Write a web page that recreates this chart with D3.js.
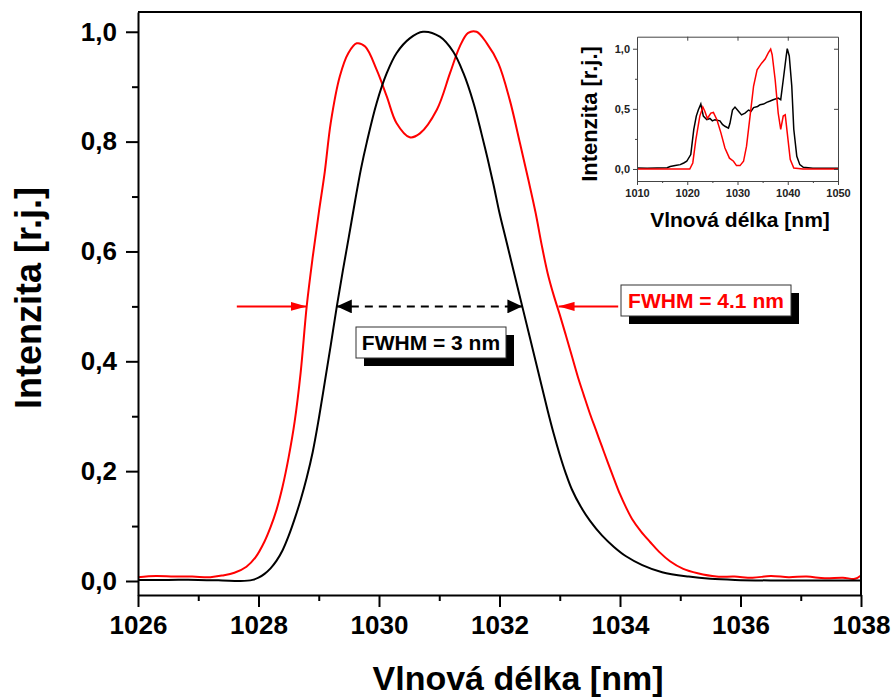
<!DOCTYPE html>
<html>
<head>
<meta charset="utf-8">
<script src="https://cdn.jsdelivr.net/npm/d3@7"></script>
<style>
  html, body { margin: 0; padding: 0; background: #fff; }
  svg text { font-family: "Liberation Sans", Arial, sans-serif; font-weight: bold; }
</style>
</head>
<body>
<div id="chart"></div>
<script>
// main spectra: wavelength [nm] and normalized intensity
const blackX = [1026.0, 1026.5, 1027.0, 1027.4, 1027.7, 1027.9, 1028.0, 1028.1, 1028.2, 1028.3, 1028.4, 1028.5, 1028.6, 1028.7, 1028.8, 1028.9, 1029.0, 1029.1, 1029.2, 1029.3, 1029.4, 1029.5, 1029.6, 1029.7, 1029.8, 1029.96, 1030.13, 1030.29, 1030.51, 1030.73, 1031.01, 1031.23, 1031.4, 1031.57, 1031.7, 1031.8, 1031.9, 1032.0, 1032.1, 1032.2, 1032.3, 1032.4, 1032.5, 1032.6, 1032.7, 1032.8, 1032.9, 1033.0, 1033.1, 1033.2, 1033.35, 1033.5, 1033.7, 1033.9, 1034.1, 1034.37, 1034.7, 1035.14, 1035.5, 1035.91, 1036.5, 1037.0, 1037.5, 1038.0];
const blackY = [0.002, 0.002, 0.002, 0.001, 0.0, 0.002, 0.006, 0.013, 0.023, 0.037, 0.056, 0.082, 0.113, 0.148, 0.188, 0.235, 0.295, 0.362, 0.43, 0.5, 0.565, 0.627, 0.69, 0.75, 0.8, 0.87, 0.925, 0.961, 0.988, 1.0, 0.991, 0.964, 0.925, 0.87, 0.815, 0.77, 0.722, 0.67, 0.625, 0.58, 0.535, 0.49, 0.445, 0.4, 0.355, 0.31, 0.268, 0.23, 0.196, 0.167, 0.135, 0.11, 0.083, 0.062, 0.045, 0.029, 0.016, 0.008, 0.004, 0.002, 0.001, 0.001, 0.001, 0.001];

const redX = [1026.0, 1026.3, 1026.6, 1026.9, 1027.2, 1027.4, 1027.6, 1027.8, 1027.95, 1028.1, 1028.2, 1028.3, 1028.4, 1028.5, 1028.6, 1028.7, 1028.8, 1028.9, 1029.0, 1029.1, 1029.2, 1029.35, 1029.49, 1029.63, 1029.77, 1029.96, 1030.13, 1030.29, 1030.51, 1030.68, 1030.96, 1031.18, 1031.34, 1031.48, 1031.62, 1031.79, 1031.98, 1032.17, 1032.34, 1032.48, 1032.6, 1032.7, 1032.8, 1032.9, 1033.0, 1033.1, 1033.2, 1033.3, 1033.4, 1033.5, 1033.6, 1033.7, 1033.8, 1033.9, 1034.0, 1034.1, 1034.2, 1034.35, 1034.5, 1034.65, 1034.83, 1035.05, 1035.29, 1035.6, 1035.9, 1036.2, 1036.5, 1036.8, 1037.1, 1037.4, 1037.7, 1037.9, 1038.0];
const redY = [0.007, 0.009, 0.008, 0.008, 0.007, 0.01, 0.015, 0.026, 0.043, 0.072, 0.098, 0.13, 0.172, 0.225, 0.29, 0.38, 0.5, 0.59, 0.67, 0.745, 0.835, 0.919, 0.961, 0.979, 0.973, 0.931, 0.882, 0.834, 0.808, 0.815, 0.858, 0.925, 0.973, 0.998, 1.0, 0.979, 0.943, 0.876, 0.797, 0.73, 0.67, 0.612, 0.56, 0.52, 0.485, 0.448, 0.41, 0.372, 0.338, 0.305, 0.275, 0.245, 0.215, 0.186, 0.158, 0.134, 0.113, 0.09, 0.071, 0.053, 0.036, 0.022, 0.014, 0.008, 0.008, 0.006, 0.009, 0.007, 0.008, 0.005, 0.006, 0.004, 0.01];

// inset: full spectra
const insetBlackX = [1010, 1012, 1014, 1016, 1016.6, 1017.6, 1018.6, 1019.3, 1019.9, 1020.7, 1021.3, 1021.8, 1022.2, 1022.7, 1023.2, 1023.9, 1024.5, 1025.0, 1025.5, 1026.5, 1027.0, 1027.5, 1028.2, 1028.5, 1029.0, 1029.5, 1030.2, 1030.8, 1031.5, 1032.2, 1032.7, 1033.2, 1034.0, 1034.5, 1035.2, 1035.8, 1036.5, 1037.1, 1038.1, 1038.6, 1039.1, 1039.7, 1039.9, 1040.3, 1040.8, 1041.2, 1041.8, 1042.4, 1043.1, 1045, 1047.5, 1050];
const insetBlackY = [0.008, 0.006, 0.008, 0.01, 0.02, 0.028, 0.036, 0.05, 0.064, 0.12, 0.33, 0.44, 0.49, 0.54, 0.44, 0.41, 0.42, 0.4, 0.41, 0.4, 0.37, 0.355, 0.34, 0.38, 0.49, 0.515, 0.48, 0.45, 0.465, 0.49, 0.48, 0.51, 0.52, 0.535, 0.54, 0.554, 0.565, 0.576, 0.59, 0.576, 0.74, 0.94, 1.0, 0.94, 0.69, 0.33, 0.105, 0.036, 0.014, 0.006, 0.005, 0.005];

const insetRedX = [1010, 1013, 1016, 1019, 1020.5, 1021.1, 1021.7, 1022.5, 1023.1, 1023.5, 1024.0, 1024.7, 1025.2, 1025.9, 1026.7, 1027.5, 1028.4, 1029.2, 1029.8, 1030.5, 1031.2, 1031.8, 1032.5, 1033.2, 1033.9, 1034.8, 1035.5, 1036.1, 1036.6, 1036.9, 1037.5, 1038.1, 1038.6, 1039.1, 1039.5, 1039.9, 1040.5, 1041.2, 1043, 1046, 1050];
const insetRedY = [0.0, 0.0, 0.0, 0.0, 0.0, 0.05, 0.24, 0.44, 0.515, 0.48, 0.42, 0.465, 0.47, 0.41, 0.3, 0.175, 0.09, 0.064, 0.028, 0.028, 0.064, 0.19, 0.44, 0.69, 0.825, 0.88, 0.914, 0.964, 0.997, 0.95, 0.74, 0.465, 0.33, 0.44, 0.45, 0.3, 0.078, 0.008, 0.0, 0.0, 0.0];

const xMajor = [1026, 1028, 1030, 1032, 1034, 1036, 1038];
const xMinor = [1027, 1029, 1031, 1033, 1035, 1037];
const yMajor = [0, 0.2, 0.4, 0.6, 0.8, 1.0];
const yMinor = [0.1, 0.3, 0.5, 0.7, 0.9];
const insetXTicks = [1010, 1020, 1030, 1040, 1050];
const insetXMinor = [1015, 1025, 1035, 1045];
const insetYTicks = [0, 0.5, 1.0];
const insetYMinor = [0.25, 0.75];

const W = 893, H = 697;
const comma = d => d3.format(".1f")(d).replace(".", ",");

const svg = d3.select("#chart").append("svg")
    .attr("width", W).attr("height", H);

const x = d3.scaleLinear().domain([1026, 1038]).range([138, 861]);
const y = d3.scaleLinear().domain([-0.0255, 1.036]).range([595, 12]);

const line = d3.line().x(d => x(d[0])).y(d => y(d[1])).curve(d3.curveCatmullRom.alpha(0.5));

// curves
svg.append("path").datum(d3.zip(redX, redY))
    .attr("d", line).attr("fill", "none").attr("stroke", "#ff0000").attr("stroke-width", 2);
svg.append("path").datum(d3.zip(blackX, blackY))
    .attr("d", line).attr("fill", "none").attr("stroke", "#000").attr("stroke-width", 2);

// axes
const bottom = svg.append("g").attr("transform", `translate(0,${y.range()[0]})`);
bottom.call(d3.axisBottom(x).tickValues(xMajor).tickSize(12).tickSizeOuter(0).tickPadding(9).tickFormat(d3.format("d")));
bottom.append("g").call(d3.axisBottom(x).tickValues(xMinor).tickSize(6).tickFormat(""))
    .select(".domain").remove();
bottom.selectAll("text").style("font-size", "26px").attr("fill", "#000");

const left = svg.append("g").attr("transform", `translate(${x.range()[0]},0)`);
left.call(d3.axisLeft(y).tickValues(yMajor).tickSize(12).tickSizeOuter(0).tickPadding(9).tickFormat(comma));
left.append("g").call(d3.axisLeft(y).tickValues(yMinor).tickSize(6).tickFormat(""))
    .select(".domain").remove();
left.selectAll("text").style("font-size", "26px").attr("fill", "#000");

svg.selectAll(".domain, .tick line").attr("stroke", "#000").attr("stroke-width", 2);

// frame top and right
svg.append("path")
    .attr("d", `M${x.range()[0]},${y.range()[1]}H${x.range()[1]}V${y.range()[0]}`)
    .attr("fill", "none").attr("stroke", "#000").attr("stroke-width", 2);

// axis titles
svg.append("text").attr("x", 518).attr("y", 690).attr("text-anchor", "middle")
    .style("font-size", "34px").text("Vlnová délka [nm]");
svg.append("text").attr("transform", "translate(41,298) rotate(-90)").attr("text-anchor", "middle")
    .style("font-size", "36px").text("Intenzita [r.j.]");

// FWHM annotations
const defs = svg.append("defs");
function marker(id, color, w, h) {
    defs.append("marker").attr("id", id)
        .attr("viewBox", `0 0 ${w} ${h}`).attr("refX", w).attr("refY", h / 2)
        .attr("markerWidth", w).attr("markerHeight", h).attr("markerUnits", "userSpaceOnUse")
        .attr("orient", "auto-start-reverse")
        .append("path").attr("d", `M0,0L${w},${h / 2}L0,${h}Z`).attr("fill", color);
}
marker("arrRed", "#ff0000", 16, 9);
marker("arrBlack", "#000", 15, 14);

const yHalf = y(0.5);
svg.append("line")
    .attr("x1", x(1027.64)).attr("x2", x(1028.8)).attr("y1", yHalf).attr("y2", yHalf)
    .attr("stroke", "#ff0000").attr("stroke-width", 2).attr("marker-end", "url(#arrRed)");
svg.append("line")
    .attr("x1", x(1033.97)).attr("x2", x(1032.98)).attr("y1", yHalf).attr("y2", yHalf)
    .attr("stroke", "#ff0000").attr("stroke-width", 2).attr("marker-end", "url(#arrRed)");
svg.append("line")
    .attr("x1", x(1029.3)).attr("x2", x(1032.38)).attr("y1", yHalf).attr("y2", yHalf)
    .attr("stroke", "#000").attr("stroke-width", 2).attr("stroke-dasharray", "8,6")
    .attr("marker-start", "url(#arrBlack)").attr("marker-end", "url(#arrBlack)");

function label(cx, cy, w, h, txt, color) {
    const g = svg.append("g");
    g.append("rect").attr("x", cx - w / 2 + 8).attr("y", cy - h / 2 + 8).attr("width", w).attr("height", h).attr("fill", "#000");
    g.append("rect").attr("x", cx - w / 2).attr("y", cy - h / 2).attr("width", w).attr("height", h)
        .attr("fill", "#fff").attr("stroke", "#333").attr("stroke-width", 1);
    g.append("text").attr("x", cx).attr("y", cy + 7.5).attr("text-anchor", "middle")
        .style("font-size", "21px").attr("fill", color).text(txt);
}
label(431, 342.5, 150, 31, "FWHM = 3 nm", "#000");
label(706, 300.5, 170, 31, "FWHM = 4.1 nm", "#ff0000");

// inset
const ix = d3.scaleLinear().domain([1010, 1050]).range([637, 838]);
const iy = d3.scaleLinear().domain([-0.1, 1.1]).range([181, 36.7]);
const inset = svg.append("g");
inset.append("rect").attr("x", ix.range()[0]).attr("y", iy.range()[1])
    .attr("width", ix.range()[1] - ix.range()[0]).attr("height", iy.range()[0] - iy.range()[1])
    .attr("fill", "#fff");

const iline = d3.line().x(d => ix(d[0])).y(d => iy(d[1]));
inset.append("path").datum(d3.zip(insetBlackX, insetBlackY))
    .attr("d", iline).attr("fill", "none").attr("stroke", "#000").attr("stroke-width", 1.5);
inset.append("path").datum(d3.zip(insetRedX, insetRedY))
    .attr("d", iline).attr("fill", "none").attr("stroke", "#ff0000").attr("stroke-width", 1.5);

const ib = inset.append("g").attr("transform", `translate(0,${iy.range()[0]})`);
ib.call(d3.axisBottom(ix).tickValues(insetXTicks).tickSize(4).tickSizeOuter(0).tickPadding(4).tickFormat(d3.format("d")));
ib.append("g").call(d3.axisBottom(ix).tickValues(insetXMinor).tickSize(2).tickFormat("")).select(".domain").remove();
const il = inset.append("g").attr("transform", `translate(${ix.range()[0]},0)`);
il.call(d3.axisLeft(iy).tickValues(insetYTicks).tickSize(4).tickSizeOuter(0).tickPadding(3).tickFormat(comma));
il.append("g").call(d3.axisLeft(iy).tickValues(insetYMinor).tickSize(2).tickFormat("")).select(".domain").remove();
const it = inset.append("g").attr("transform", `translate(0,${iy.range()[1]})`);
it.call(d3.axisBottom(ix).tickValues(insetXTicks.slice(1, -1)).tickSize(4).tickSizeOuter(0).tickFormat(""));
const ir = inset.append("g").attr("transform", `translate(${ix.range()[1]},0)`);
ir.call(d3.axisRight(iy).tickValues(insetYTicks).tickSize(-4).tickSizeOuter(0).tickFormat(""));
inset.selectAll(".domain, .tick line").attr("stroke", "#444").attr("stroke-width", 1);
inset.selectAll("text").style("font-size", "11px").attr("fill", "#222");

inset.append("text").attr("x", 740).attr("y", 227).attr("text-anchor", "middle")
    .style("font-size", "21px").text("Vlnová délka [nm]");
inset.append("text").attr("transform", "translate(597,114) rotate(-90)").attr("text-anchor", "middle")
    .style("font-size", "22px").text("Intenzita [r.j.]");
</script>
</body>
</html>
